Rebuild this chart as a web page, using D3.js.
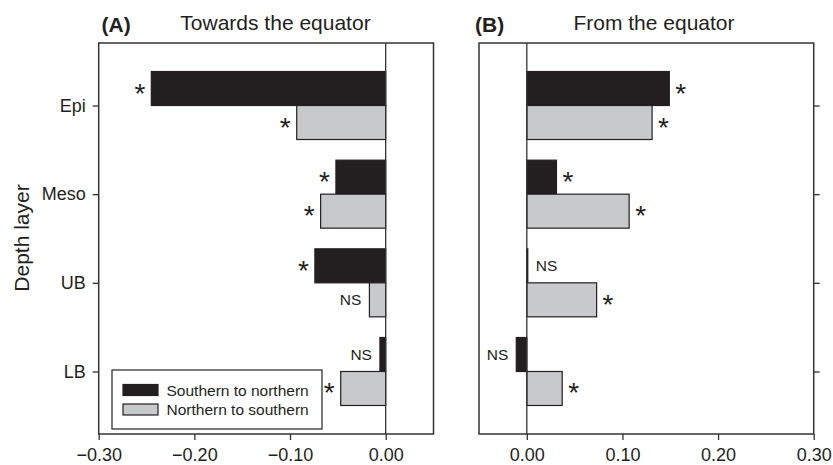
<!DOCTYPE html>
<html>
<head>
<meta charset="utf-8">
<script src="https://cdn.jsdelivr.net/npm/d3@7"></script>
<style>
    body { margin: 0; background: #fff; }
    svg { display: block; font-family: "Liberation Sans", Arial, sans-serif; }
</style>
</head>
<body>
<script>
var depthLayers = ["Epi", "Meso", "UB", "LB"];
var seriesNames = ["Southern to northern", "Northern to southern"];

// (A) towards the equator
var towardsSN = [-0.245, -0.052, -0.074, -0.006];
var towardsNS = [-0.093, -0.068, -0.017, -0.047];
var towardsSNSig = ["*", "*", "*", "NS"];
var towardsNSSig = ["*", "*", "NS", "*"];
var towardsTicks = [-0.30, -0.20, -0.10, 0.00];

// (B) from the equator
var fromSN = [0.149, 0.031, 0.001, -0.011];
var fromNS = [0.131, 0.107, 0.073, 0.037];
var fromSNSig = ["*", "*", "NS", "NS"];
var fromNSSig = ["*", "*", "*", "*"];
var fromTicks = [0.00, 0.10, 0.20, 0.30];

var black = "#231f20";
var grey = "#c8c9cb";
var frameColor = "#333";

var svg = d3.select("body").append("svg")
    .attr("width", 833)
    .attr("height", 465);

var plotTop = 43, plotBottom = 434;

var y = d3.scalePoint()
    .domain(depthLayers)
    .range([plotTop, plotBottom])
    .padding(0.705);

// each pair of bars sits around the tick: black above, grey below
var ySeries = d3.scaleBand()
    .domain(seriesNames)
    .range([-34, 34]);

function drawPanel(opts) {
    var x = d3.scaleLinear().domain(opts.domain).range(opts.range);
    var g = svg.append("g");

    var rows = [];
    depthLayers.forEach(function(d, i) {
        rows.push({ layer: d, series: seriesNames[0], value: opts.sn[i], sig: opts.snSig[i], fill: black });
        rows.push({ layer: d, series: seriesNames[1], value: opts.ns[i], sig: opts.nsSig[i], fill: grey });
    });

    // bars
    g.selectAll("rect.bar")
        .data(rows)
        .enter().append("rect")
        .attr("class", "bar")
        .attr("x", function(d) { return Math.min(x(0), x(d.value)); })
        .attr("y", function(d) { return y(d.layer) + ySeries(d.series); })
        .attr("width", function(d) { return Math.abs(x(d.value) - x(0)); })
        .attr("height", ySeries.bandwidth())
        .style("fill", function(d) { return d.fill; })
        .style("stroke", black)
        .style("stroke-width", 1.2);

    // significance labels
    g.selectAll("text.sig")
        .data(rows)
        .enter().append("text")
        .attr("class", "sig")
        .attr("x", function(d) {
            var gap = d.sig == "*" ? 6 : 8;
            return d.value < 0 ? x(d.value) - gap : x(d.value) + gap;
        })
        .attr("y", function(d) {
            var c = y(d.layer) + ySeries(d.series) + ySeries.bandwidth() / 2;
            return d.sig == "*" ? c + 14 : c + 5.5;
        })
        .attr("text-anchor", function(d) { return d.value < 0 ? "end" : "start"; })
        .style("font-size", function(d) { return d.sig == "*" ? "28px" : "15.5px"; })
        .style("fill", black)
        .text(function(d) { return d.sig; });

    // zero line
    g.append("line")
        .attr("x1", x(0)).attr("x2", x(0))
        .attr("y1", plotTop).attr("y2", plotBottom)
        .style("stroke", frameColor)
        .style("stroke-width", 1.3);

    // frame
    g.append("rect")
        .attr("x", opts.range[0])
        .attr("y", plotTop)
        .attr("width", opts.range[1] - opts.range[0])
        .attr("height", plotBottom - plotTop)
        .style("fill", "none")
        .style("stroke", frameColor)
        .style("stroke-width", 1.5);

    // bottom axis
    var xAxis = g.append("g")
        .attr("transform", "translate(0," + plotBottom + ")")
        .call(d3.axisBottom(x).tickValues(opts.ticks).tickFormat(d3.format(".2f")).tickSize(6).tickPadding(8.5));
    xAxis.select(".domain").remove();
    xAxis.selectAll("line").style("stroke", frameColor).style("stroke-width", 1.3);
    xAxis.selectAll("text").style("font-size", "18px").style("fill", black)
        .style("font-family", "Liberation Sans, Arial, sans-serif");

    // side axis
    var yAxis;
    if (opts.side == "left") {
        yAxis = g.append("g")
            .attr("transform", "translate(" + opts.range[0] + ",0)")
            .call(d3.axisLeft(y).tickSize(6).tickPadding(7));
        yAxis.selectAll("text").style("font-size", "18px").style("fill", black)
            .style("font-family", "Liberation Sans, Arial, sans-serif");
    } else {
        yAxis = g.append("g")
            .attr("transform", "translate(" + opts.range[1] + ",0)")
            .call(d3.axisRight(y).tickSize(6).tickFormat(""));
    }
    yAxis.select(".domain").remove();
    yAxis.selectAll("line").style("stroke", frameColor).style("stroke-width", 1.3);

    // titles
    svg.append("text")
        .attr("x", opts.tagX)
        .attr("y", 32)
        .style("font-size", "21px")
        .style("font-weight", "bold")
        .style("fill", black)
        .text(opts.tag);

    svg.append("text")
        .attr("x", opts.titleX)
        .attr("y", 29.5)
        .attr("text-anchor", "middle")
        .style("font-size", "21px")
        .style("fill", black)
        .text(opts.title);
}

drawPanel({
    domain: [-0.30, 0.05], range: [98.7, 433.5],
    sn: towardsSN, ns: towardsNS, snSig: towardsSNSig, nsSig: towardsNSSig,
    ticks: towardsTicks, side: "left",
    tag: "(A)", tagX: 101.5, title: "Towards the equator", titleX: 275.5
});

drawPanel({
    domain: [-0.05, 0.30], range: [479, 813.7],
    sn: fromSN, ns: fromNS, snSig: fromSNSig, nsSig: fromNSSig,
    ticks: fromTicks, side: "right",
    tag: "(B)", tagX: 475, title: "From the equator", titleX: 654
});

// y axis title
svg.append("text")
    .attr("transform", "translate(29,238) rotate(-90)")
    .attr("text-anchor", "middle")
    .style("font-size", "21px")
    .style("fill", black)
    .text("Depth layer");

// legend
var legend = svg.append("g");
legend.append("rect")
    .attr("x", 112).attr("y", 370)
    .attr("width", 210).attr("height", 59)
    .style("fill", "#fff")
    .style("stroke", frameColor)
    .style("stroke-width", 1.3);

var legendFill = [black, grey];
seriesNames.forEach(function(name, i) {
    legend.append("rect")
        .attr("x", 123).attr("y", 384.5 + i * 19.5)
        .attr("width", 35).attr("height", 11)
        .style("fill", legendFill[i])
        .style("stroke", black)
        .style("stroke-width", 1.2);
    legend.append("text")
        .attr("x", 166.5).attr("y", 395.5 + i * 19.5)
        .style("font-size", "15.5px")
        .style("fill", black)
        .text(name);
});
</script>
</body>
</html>
